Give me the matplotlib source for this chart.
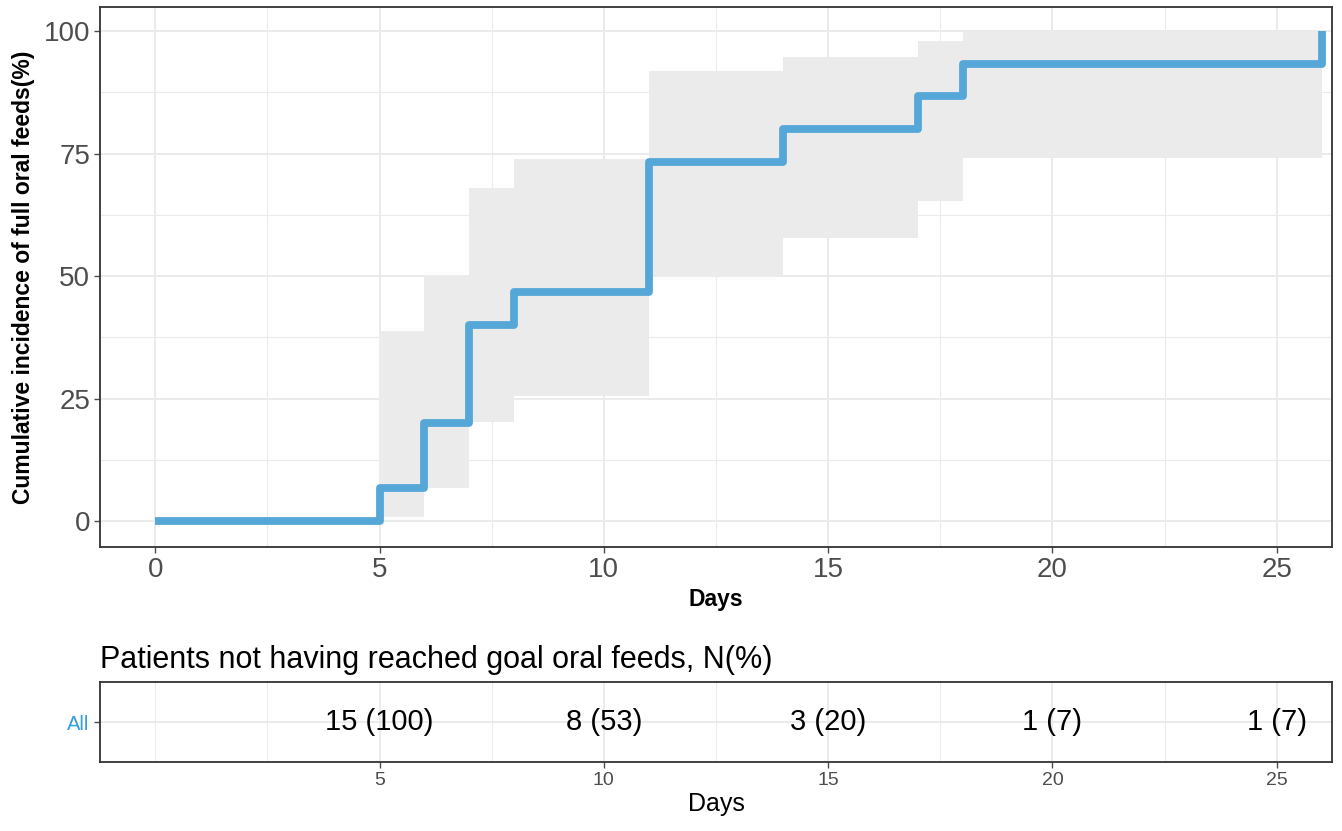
import matplotlib.pyplot as plt

# step curve: cumulative incidence of full oral feeds (%)
days = [0, 5, 6, 7, 8, 11, 14, 17, 18, 26]
incidence = [0, 6.67, 20, 40, 46.67, 73.33, 80, 86.67, 93.33, 100]

# confidence band
ci_days = [5, 6, 7, 8, 11, 14, 17, 18, 26]
ci_lower = [0.9, 6.8, 20.2, 25.6, 50.3, 57.7, 65.4, 74.0, 74.0]
ci_upper = [38.7, 50.0, 68.0, 73.8, 91.9, 94.7, 98.0, 99.7, 99.7]

# risk table
table_days = [5, 10, 15, 20, 25]
table_text = ['15 (100)', '8 (53)', '3 (20)', '1 (7)', '1 (7)']

plt.rcParams['font.family'] = ['Liberation Sans', 'DejaVu Sans']

line_col = '#55A7D8'
grid_col = '#EBEBEB'
spine_col = '#333333'
tick_col = '#4D4D4D'

fig = plt.figure(figsize=(13.42, 8.31), dpi=100)

# main panel
ax = fig.add_axes([100 / 1342, 1 - 547 / 831, 1232 / 1342, 540 / 831])
ax.fill_between(ci_days, ci_lower, ci_upper, step='post', color='#EBEBEB', lw=0, zorder=1)
ax.step(days, incidence, where='post', color=line_col, lw=5.6,
        solid_joinstyle='round', solid_capstyle='butt', zorder=3)

ax.set_xlim(-1.23, 26.23)
ax.set_ylim(-5.3, 104.9)
ax.set_xticks([0, 5, 10, 15, 20, 25])
ax.set_xticks([2.5, 7.5, 12.5, 17.5, 22.5], minor=True)
ax.set_yticks([0, 25, 50, 75, 100])
ax.set_yticks([12.5, 37.5, 62.5, 87.5], minor=True)
ax.grid(which='major', color=grid_col, lw=1.4, zorder=0)
ax.grid(which='minor', color=grid_col, lw=0.8, zorder=0)
ax.set_axisbelow(True)
ax.tick_params(which='major', labelsize=20, colors=tick_col, length=4, width=1, pad=3)
ax.tick_params(which='minor', length=0)
for s in ax.spines.values():
    s.set_color(spine_col)
    s.set_linewidth(1.3)
ax.set_xlabel('Days', fontsize=16.5, fontweight='bold', labelpad=4)
ax.set_ylabel('Cumulative incidence of full oral feeds(%)', fontsize=16.5,
              fontweight='bold', labelpad=6)

# risk table panel
tx = fig.add_axes([100 / 1342, 1 - 762 / 831, 1232 / 1342, 80 / 831])
tx.set_xlim(-1.23, 26.23)
tx.set_ylim(0, 1)
for d, t in zip(table_days, table_text):
    tx.text(d, 0.5, t, ha='center', va='center', fontsize=21, color='black')
tx.set_xticks(table_days)
tx.set_xticks([0, 2.5, 7.5, 12.5, 17.5, 22.5], minor=True)
tx.set_yticks([0.5])
tx.set_yticklabels(['All'])
tx.grid(which='major', color=grid_col, lw=1.4, zorder=0)
tx.grid(which='minor', axis='x', color=grid_col, lw=0.8, zorder=0)
tx.tick_params(which='major', labelsize=14, colors=tick_col, length=4, width=1)
tx.tick_params(which='minor', length=0)
tx.tick_params(axis='y', labelcolor='#2E9FDF', labelsize=14.5)
for s in tx.spines.values():
    s.set_color(spine_col)
    s.set_linewidth(1.3)
tx.set_xlabel('Days', fontsize=18, labelpad=2)
tx.set_title('Patients not having reached goal oral feeds, N(%)', loc='left',
             fontsize=22, pad=10)

fig.savefig('out.png', dpi=100)
